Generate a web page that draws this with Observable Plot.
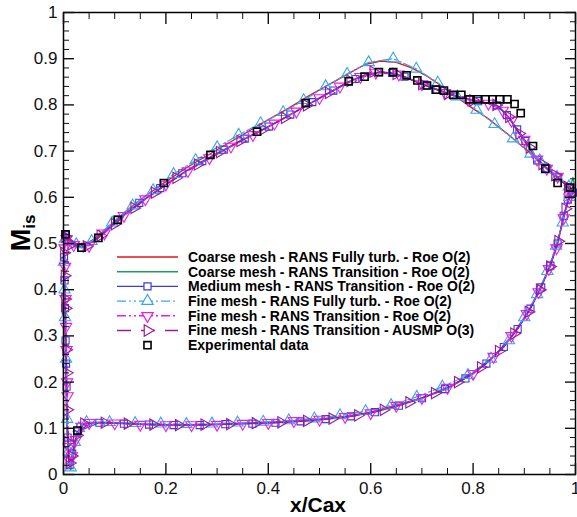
<!DOCTYPE html>
<html><head><meta charset="utf-8">
<script src="https://cdn.jsdelivr.net/npm/d3@7"></script>
<script src="https://cdn.jsdelivr.net/npm/@observablehq/plot@0.6"></script>
<style>
body{margin:0;background:#fff;}
#chart{position:relative;width:577px;height:517px;}
svg{font-family:"Liberation Sans",Arial,sans-serif;}
</style>
</head><body><div id="chart"></div>
<script>
// ---- tick values ----
const xMajor = [0, 0.2, 0.4, 0.6, 0.8, 1];
const xMinor = [0.05,0.1,0.15,0.25,0.3,0.35,0.45,0.5,0.55,0.65,0.7,0.75,0.85,0.9,0.95];
const yMajor = [0,0.1,0.2,0.3,0.4,0.5,0.6,0.7,0.8,0.9,1];
const yMinor = [0.02,0.04,0.06,0.08,0.12,0.14,0.16,0.18,0.22,0.24,0.26,0.28,0.32,0.34,0.36,0.38,0.42,0.44,0.46,0.48,0.52,0.54,0.56,0.58,0.62,0.64,0.66,0.68,0.72,0.74,0.76,0.78,0.82,0.84,0.86,0.88,0.92,0.94,0.96,0.98];

// ---- series (suction side TE->LE, then pressure side LE->TE), [x/Cax, Mis] ----
const coarseTurbSuction = [[1.0,0.612],[0.99,0.620],[0.97,0.638],[0.95,0.655],[0.93,0.676],[0.91,0.698],[0.89,0.716],[0.87,0.735],[0.85,0.752],[0.83,0.770],[0.80,0.792],[0.77,0.815],[0.74,0.840],[0.71,0.862],[0.68,0.880],[0.65,0.892],[0.62,0.895],[0.59,0.888],[0.56,0.870],[0.52,0.845],[0.48,0.820],[0.44,0.793],[0.40,0.768],[0.36,0.742],[0.32,0.716],[0.28,0.690],[0.24,0.664],[0.20,0.634],[0.16,0.603],[0.12,0.568],[0.09,0.538],[0.06,0.510],[0.04,0.496],[0.025,0.496],[0.012,0.506],[0.004,0.516],[0.0,0.51]];
const coarseTurbPressure = [[0.001,0.47],[0.002,0.40],[0.003,0.33],[0.004,0.26],[0.005,0.19],[0.006,0.13],[0.008,0.07],[0.011,0.025],[0.014,0.012],[0.018,0.03],[0.022,0.06],[0.027,0.09],[0.033,0.104],[0.045,0.112],[0.07,0.113],[0.1,0.112],[0.15,0.110],[0.2,0.108],[0.25,0.108],[0.3,0.109],[0.35,0.111],[0.4,0.113],[0.45,0.116],[0.5,0.120],[0.55,0.126],[0.6,0.135],[0.65,0.150],[0.7,0.166],[0.75,0.187],[0.8,0.219],[0.83,0.246],[0.86,0.278],[0.89,0.321],[0.91,0.356],[0.93,0.401],[0.95,0.451],[0.96,0.486],[0.97,0.526],[0.98,0.571],[0.99,0.605],[1.0,0.612]];

const coarseTransSuction = [[1.0,0.615],[0.995,0.643],[0.99,0.622],[0.97,0.640],[0.95,0.658],[0.93,0.677],[0.91,0.705],[0.89,0.738],[0.87,0.772],[0.85,0.797],[0.83,0.803],[0.80,0.810],[0.77,0.818],[0.74,0.830],[0.71,0.842],[0.68,0.855],[0.65,0.867],[0.62,0.872],[0.59,0.865],[0.56,0.852],[0.52,0.827],[0.48,0.802],[0.44,0.777],[0.40,0.753],[0.36,0.730],[0.32,0.705],[0.28,0.681],[0.24,0.657],[0.20,0.627],[0.16,0.596],[0.12,0.562],[0.09,0.533],[0.06,0.506],[0.04,0.492],[0.025,0.493],[0.012,0.503],[0.004,0.515],[0.0,0.51]];
const coarseTransPressure = [[0.001,0.47],[0.002,0.40],[0.003,0.33],[0.004,0.26],[0.005,0.19],[0.006,0.13],[0.008,0.07],[0.011,0.025],[0.014,0.01],[0.018,0.03],[0.022,0.06],[0.027,0.09],[0.033,0.103],[0.045,0.112],[0.07,0.113],[0.1,0.112],[0.15,0.109],[0.2,0.107],[0.25,0.107],[0.3,0.108],[0.35,0.110],[0.4,0.112],[0.45,0.115],[0.5,0.119],[0.55,0.125],[0.6,0.134],[0.65,0.149],[0.7,0.165],[0.75,0.186],[0.8,0.218],[0.83,0.245],[0.86,0.277],[0.89,0.320],[0.91,0.355],[0.93,0.400],[0.95,0.450],[0.96,0.485],[0.97,0.525],[0.98,0.570],[0.99,0.605],[1.0,0.612]];

const mediumTransSuction = [[0.990,0.620],[0.966,0.643],[0.944,0.662],[0.925,0.680],[0.902,0.722],[0.886,0.747],[0.866,0.778],[0.847,0.799],[0.810,0.808],[0.762,0.820],[0.730,0.833],[0.707,0.842],[0.666,0.861],[0.642,0.869],[0.616,0.871],[0.570,0.856],[0.527,0.831],[0.486,0.806],[0.443,0.779],[0.401,0.753],[0.354,0.727],[0.313,0.703],[0.271,0.678],[0.232,0.652],[0.189,0.620],[0.148,0.588],[0.106,0.552],[0.068,0.512],[0.035,0.491],[0.004,0.518]];
const mediumTransPressure = [[0.001,0.47],[0.002,0.42],[0.003,0.36],[0.004,0.29],[0.005,0.24],[0.006,0.19],[0.008,0.08],[0.012,0.02],[0.017,0.045],[0.027,0.093],[0.07,0.112],[0.118,0.110],[0.167,0.108],[0.215,0.107],[0.266,0.107],[0.316,0.109],[0.369,0.110],[0.414,0.112],[0.463,0.115],[0.512,0.120],[0.561,0.126],[0.608,0.135],[0.655,0.149],[0.700,0.165],[0.745,0.185],[0.785,0.208],[0.826,0.240],[0.860,0.276],[0.887,0.315],[0.912,0.359],[0.933,0.405],[0.951,0.452],[0.965,0.500],[0.977,0.560],[0.985,0.595],[0.995,0.610]];

const fineTurbSuction = [[0.987,0.623],[0.964,0.644],[0.944,0.660],[0.930,0.680],[0.912,0.694],[0.878,0.727],[0.842,0.758],[0.807,0.789],[0.769,0.818],[0.731,0.848],[0.689,0.878],[0.644,0.900],[0.596,0.892],[0.554,0.867],[0.512,0.840],[0.469,0.810],[0.429,0.784],[0.385,0.760],[0.342,0.735],[0.300,0.708],[0.258,0.680],[0.215,0.650],[0.175,0.615],[0.135,0.582],[0.095,0.545],[0.055,0.505],[0.025,0.498],[0.003,0.51]];
const fineTurbPressure = [[0.001,0.46],[0.002,0.40],[0.003,0.34],[0.005,0.25],[0.007,0.12],[0.010,0.05],[0.014,0.015],[0.022,0.07],[0.030,0.10],[0.045,0.113],[0.090,0.113],[0.140,0.111],[0.190,0.110],[0.240,0.109],[0.290,0.110],[0.340,0.112],[0.390,0.114],[0.440,0.117],[0.490,0.121],[0.540,0.128],[0.590,0.137],[0.640,0.150],[0.690,0.168],[0.740,0.190],[0.790,0.215],[0.835,0.250],[0.870,0.290],[0.900,0.340],[0.925,0.390],[0.945,0.440],[0.962,0.495],[0.975,0.545],[0.988,0.600]];

const fineTransRoeSuction = [[0.989,0.619],[0.965,0.645],[0.944,0.662],[0.925,0.682],[0.900,0.725],[0.875,0.766],[0.858,0.788],[0.830,0.803],[0.790,0.811],[0.745,0.826],[0.700,0.845],[0.655,0.866],[0.610,0.870],[0.580,0.861],[0.540,0.840],[0.500,0.815],[0.455,0.786],[0.412,0.760],[0.370,0.735],[0.327,0.710],[0.285,0.685],[0.243,0.657],[0.200,0.628],[0.160,0.596],[0.118,0.560],[0.080,0.522],[0.050,0.495],[0.020,0.497],[0.006,0.510]];
const fineTransRoePressure = [[0.002,0.49],[0.003,0.45],[0.004,0.38],[0.005,0.32],[0.006,0.27],[0.007,0.20],[0.008,0.17],[0.010,0.06],[0.012,0.03],[0.016,0.04],[0.024,0.075],[0.035,0.104],[0.050,0.112],[0.100,0.111],[0.150,0.108],[0.200,0.107],[0.250,0.107],[0.300,0.108],[0.350,0.110],[0.400,0.112],[0.450,0.116],[0.500,0.119],[0.550,0.125],[0.600,0.133],[0.650,0.149],[0.700,0.166],[0.750,0.188],[0.800,0.218],[0.840,0.255],[0.875,0.300],[0.905,0.348],[0.928,0.395],[0.948,0.445],[0.963,0.490],[0.977,0.555],[0.988,0.600]];

const fineTransAusmSuction = [[0.985,0.622],[0.960,0.648],[0.935,0.672],[0.910,0.708],[0.890,0.738],[0.870,0.774],[0.845,0.800],[0.800,0.810],[0.750,0.824],[0.700,0.845],[0.650,0.867],[0.605,0.872],[0.560,0.852],[0.518,0.826],[0.475,0.799],[0.432,0.772],[0.390,0.747],[0.345,0.722],[0.305,0.698],[0.262,0.671],[0.220,0.642],[0.178,0.610],[0.138,0.577],[0.100,0.542],[0.072,0.517],[0.045,0.494],[0.015,0.498],[0.003,0.515]];
const fineTransAusmPressure = [[0.001,0.48],[0.002,0.43],[0.003,0.38],[0.004,0.36],[0.005,0.27],[0.006,0.22],[0.007,0.14],[0.009,0.07],[0.012,0.025],[0.016,0.04],[0.026,0.085],[0.040,0.110],[0.080,0.112],[0.125,0.110],[0.175,0.108],[0.225,0.107],[0.275,0.108],[0.325,0.109],[0.375,0.111],[0.425,0.113],[0.475,0.116],[0.525,0.121],[0.575,0.128],[0.625,0.140],[0.675,0.156],[0.725,0.176],[0.770,0.200],[0.815,0.232],[0.850,0.267],[0.880,0.305],[0.908,0.352],[0.930,0.400],[0.950,0.450],[0.966,0.505],[0.980,0.575],[0.992,0.608]];

const experimental = [[0.004,0.520],[0.035,0.491],[0.068,0.512],[0.106,0.551],[0.196,0.631],[0.287,0.692],[0.378,0.742],[0.473,0.804],[0.557,0.851],[0.588,0.861],[0.616,0.871],[0.644,0.871],[0.670,0.864],[0.691,0.853],[0.710,0.842],[0.727,0.833],[0.743,0.831],[0.761,0.822],[0.777,0.822],[0.793,0.812],[0.809,0.812],[0.824,0.812],[0.838,0.812],[0.852,0.812],[0.867,0.812],[0.881,0.802],[0.893,0.782],[0.917,0.711],[0.941,0.662],[0.965,0.631],[0.989,0.621],[0.027,0.095]];

const legendLabels = [
  "Coarse mesh - RANS Fully turb. - Roe O(2)",
  "Coarse mesh - RANS Transition - Roe O(2)",
  "Medium mesh - RANS Transition - Roe O(2)",
  "Fine mesh - RANS Fully turb. - Roe O(2)",
  "Fine mesh - RANS Transition - Roe O(2)",
  "Fine mesh - RANS Transition - AUSMP O(3)",
  "Experimental data"
];

// ---- styles ----
const styles = [
  {color:"#e3141b", dash:null, symbol:null, rotate:0},
  {color:"#1f9e5a", dash:null, symbol:null, rotate:0},
  {color:"#3b3bdc", dash:null, symbol:"square", rotate:0},
  {color:"#3aa6ea", dash:"9,3,2,3,2,3", symbol:"triangle", rotate:0},
  {color:"#e61ee6", dash:"9,3,2,3,2,3", symbol:"triangle", rotate:180},
  {color:"#a0189a", dash:"14,10", symbol:"triangle", rotate:90},
  {color:"#000000", dash:null, symbol:"square", rotate:0, noLine:true}
];

const series = [
  coarseTurbSuction.concat(coarseTurbPressure),
  coarseTransSuction.concat(coarseTransPressure),
  mediumTransSuction.concat(mediumTransPressure),
  fineTurbSuction.concat(fineTurbPressure),
  fineTransRoeSuction.concat(fineTransRoePressure),
  fineTransAusmSuction.concat(fineTransAusmPressure),
  experimental
];

const marks = [];
series.forEach((data, i) => {
  const s = styles[i];
  if (!s.noLine) {
    marks.push(Plot.line(data, {x: d => d[0], y: d => d[1], stroke: s.color, strokeWidth: 1.3, strokeDasharray: s.dash, curve: "linear"}));
  }
});
series.forEach((data, i) => {
  const s = styles[i];
  if (s.symbol) {
    marks.push(Plot.dot(data, {x: d => d[0], y: d => d[1], symbol: s.symbol, r: s.symbol === "square" ? 4 : 4.2, stroke: s.color, strokeWidth: s.noLine ? 1.6 : 1.1, fill: "none", rotate: s.rotate}));
  }
});

const noText = () => "";
const plot = Plot.plot({
  width: 577, height: 517,
  marginLeft: 63, marginRight: 2, marginTop: 12, marginBottom: 43,
  x: {domain: [0, 1], label: null},
  y: {domain: [0, 1], label: null},
  style: {fontFamily: '"Liberation Sans", Arial, sans-serif', fontSize: "17px", color: "#111", background: "#fff"},
  marks: [
    ...marks,
    Plot.frame({stroke: "#000", strokeWidth: 1.5}),
    Plot.axisX({ticks: xMajor, tickSize: -11, tickPadding: 18, tickFormat: d => String(d), strokeWidth: 1.4, fontSize: 17, label: null}),
    Plot.axisX({ticks: xMinor, tickSize: -6, tickFormat: noText, strokeWidth: 1, label: null}),
    Plot.axisX({anchor: "top", ticks: xMajor, tickSize: -11, tickFormat: noText, strokeWidth: 1.4, label: null}),
    Plot.axisX({anchor: "top", ticks: xMinor, tickSize: -6, tickFormat: noText, strokeWidth: 1, label: null}),
    Plot.axisY({ticks: yMajor, tickSize: -11, tickPadding: 17, tickFormat: d => String(d), strokeWidth: 1.4, fontSize: 17, label: null}),
    Plot.axisY({ticks: yMinor, tickSize: -6, tickFormat: noText, strokeWidth: 1, label: null}),
    Plot.axisY({anchor: "right", ticks: yMajor, tickSize: -11, tickFormat: noText, strokeWidth: 1.4, label: null}),
    Plot.axisY({anchor: "right", ticks: yMinor, tickSize: -6, tickFormat: noText, strokeWidth: 1, label: null})
  ]
});
document.getElementById("chart").appendChild(plot);

// ---- axis titles and legend (added into the SVG) ----
const svg = d3.select(plot);
svg.append("text").attr("x", 318).attr("y", 512).attr("text-anchor", "middle")
  .attr("font-size", 21).attr("font-weight", "bold").attr("fill", "#000").text("x/Cax");
const yl = svg.append("text").attr("transform", "translate(30,233) rotate(-90)").attr("text-anchor", "middle")
  .attr("font-weight", "bold").attr("fill", "#000");
yl.append("tspan").attr("font-size", 27).text("M");
yl.append("tspan").attr("font-size", 17).attr("dy", 5).text("is");

const leg = svg.append("g");
const rowY0 = 257, rowDy = 14.7, lx0 = 117, lx1 = 178, tx = 188;
legendLabels.forEach((lab, i) => {
  const s = styles[i];
  const y = rowY0 + i * rowDy;
  if (!s.noLine) {
    leg.append("line").attr("x1", lx0).attr("x2", lx1).attr("y1", y).attr("y2", y)
      .attr("stroke", s.color).attr("stroke-width", 1.4).attr("stroke-dasharray", s.dash);
  }
  if (s.symbol) {
    const r = s.symbol === "square" ? 4 : 4.2;
    const sym = d3.symbol(s.symbol === "square" ? d3.symbolSquare : d3.symbolTriangle, Math.PI * r * r);
    leg.append("path").attr("d", sym()).attr("transform", `translate(${(lx0 + lx1) / 2},${y}) rotate(${s.rotate})`)
      .attr("fill", "#fff").attr("stroke", s.color).attr("stroke-width", s.noLine ? 1.6 : 1.2);
  }
  leg.append("text").attr("x", tx).attr("y", y).attr("dy", "0.35em").attr("text-anchor", "start")
    .attr("font-size", 14).attr("font-weight", "bold").attr("fill", "#000").text(lab);
});
</script>
</body></html>
